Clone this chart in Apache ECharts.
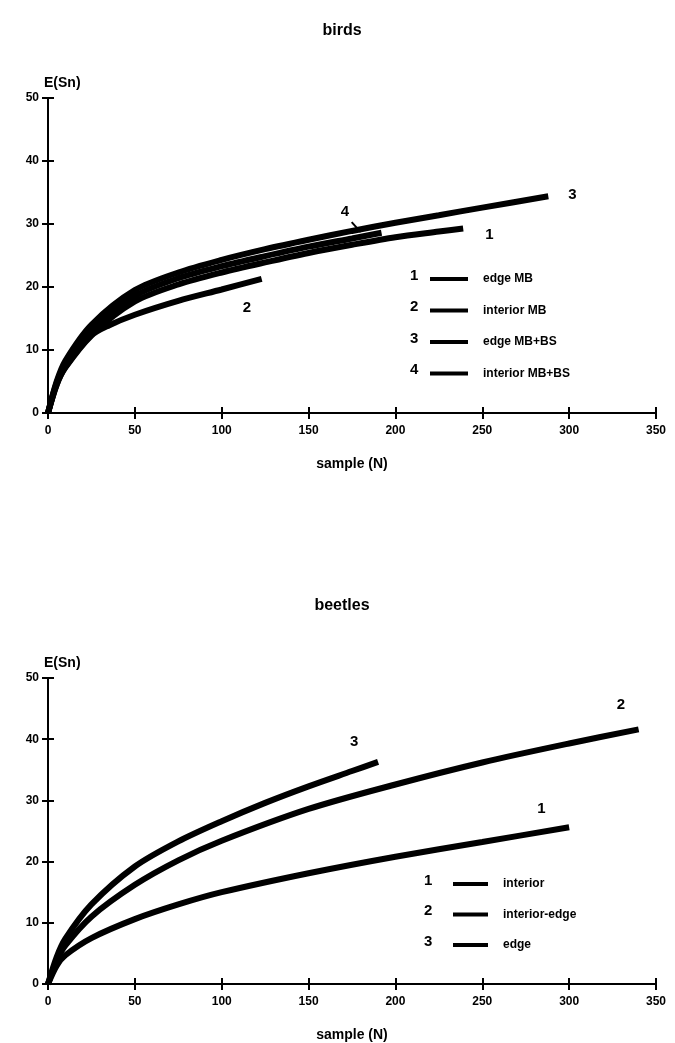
<!DOCTYPE html>
<html>
<head>
<meta charset="utf-8">
<script src="https://cdn.jsdelivr.net/npm/echarts@6/dist/echarts.min.js"></script>
<style>
html, body { margin: 0; padding: 0; background: #fff; }
#chart { width: 675px; height: 1043px; }
</style>
</head>
<body>
<div id="chart"></div>
<script>
// birds
var birdsEdgeMB_x = [0, 5, 10, 25, 50, 75, 100, 125, 150, 175, 200, 225, 239];
var birdsEdgeMB_y = [0, 4.5, 7.3, 12.4, 17.7, 20.4, 22.3, 23.9, 25.4, 26.7, 27.9, 28.8, 29.3];
var birdsIntMB_x = [0, 5, 10, 25, 35, 50, 75, 100, 123];
var birdsIntMB_y = [0, 4.5, 7.2, 12.3, 13.9, 15.6, 17.8, 19.6, 21.3];
var birdsEdgeMBBS_x = [0, 5, 10, 25, 50, 75, 100, 125, 150, 175, 200, 225, 250, 288];
var birdsEdgeMBBS_y = [0, 5, 8.3, 14, 19.5, 22.3, 24.3, 26, 27.5, 28.9, 30.2, 31.4, 32.6, 34.4];
var birdsIntMBBS_x = [0, 5, 10, 25, 50, 75, 100, 125, 150, 175, 192];
var birdsIntMBBS_y = [0, 4.8, 7.8, 13.2, 18.6, 21.4, 23.3, 24.9, 26.4, 27.7, 28.6];

// beetles
var beetInt_x = [0, 5, 10, 25, 50, 75, 100, 150, 200, 250, 300];
var beetInt_y = [0, 3, 4.7, 7.5, 10.6, 13, 15, 18.1, 20.8, 23.2, 25.6];
var beetIntEdge_x = [0, 5, 10, 25, 50, 75, 100, 150, 200, 250, 300, 340];
var beetIntEdge_y = [0, 3.8, 6.3, 11, 16.2, 20.2, 23.4, 28.6, 32.6, 36.2, 39.3, 41.6];
var beetEdge_x = [0, 5, 10, 25, 50, 75, 100, 125, 150, 175, 190];
var beetEdge_y = [0, 4.4, 7.4, 13, 19.2, 23.3, 26.6, 29.6, 32.3, 34.8, 36.3];

var xTicks = [0, 50, 100, 150, 200, 250, 300, 350];
var yTicks = [0, 10, 20, 30, 40, 50];

var birdsNames = ['edge MB', 'interior MB', 'edge MB+BS', 'interior MB+BS'];
var beetleNames = ['interior', 'interior-edge', 'edge'];

var FONT = 'Liberation Sans';

function pairs(xs, ys) {
    var out = [];
    for (var i = 0; i < xs.length; i++) out.push([xs[i], ys[i]]);
    return out;
}

function xAx(grid, main) {
    return {
        type: 'value', gridIndex: grid, position: 'bottom',
        min: xTicks[0], max: xTicks[xTicks.length - 1], interval: xTicks[1] - xTicks[0],
        name: main ? 'sample (N)' : '', nameLocation: 'middle', nameGap: 44,
        nameTextStyle: { fontFamily: FONT, fontWeight: 'bold', fontSize: 14, color: '#000' },
        axisLine: { show: main, onZero: false, lineStyle: { color: '#000', width: 2 } },
        axisTick: { show: true, inside: !main, length: 6, lineStyle: { color: '#000', width: 2 } },
        axisLabel: { show: main, margin: 12, fontFamily: FONT, fontWeight: 'bold', fontSize: 12, color: '#000' },
        splitLine: { show: false }
    };
}

function yAx(grid, main) {
    return {
        type: 'value', gridIndex: grid, position: 'left',
        min: yTicks[0], max: yTicks[yTicks.length - 1], interval: yTicks[1] - yTicks[0],
        name: main ? 'E(Sn)' : '', nameLocation: 'end', nameGap: 8,
        nameTextStyle: { fontFamily: FONT, fontWeight: 'bold', fontSize: 14, color: '#000', align: 'left', padding: [0, 0, 0, -4] },
        axisLine: { show: main, lineStyle: { color: '#000', width: 2 } },
        axisTick: { show: true, inside: !main, length: 6, lineStyle: { color: '#000', width: 2 } },
        axisLabel: { show: main, margin: 9, fontFamily: FONT, fontWeight: 'bold', fontSize: 12, color: '#000' },
        splitLine: { show: false }
    };
}

function curve(name, xs, ys, grid, lbl, off) {
    return {
        name: name, type: 'line', xAxisIndex: grid * 2, yAxisIndex: grid * 2,
        data: pairs(xs, ys), smooth: 0.3, showSymbol: false,
        lineStyle: { color: '#000', width: 6, cap: 'butt' },
        itemStyle: { color: '#000' },
        endLabel: lbl ? { show: true, formatter: lbl, offset: off, fontFamily: FONT, fontWeight: 'bold', fontSize: 15, color: '#000' } : { show: false }
    };
}

var legendText = { fontFamily: FONT, fontWeight: 'bold', fontSize: 12, color: '#000', padding: [0, 0, 0, 10] };

var myChart = echarts.init(document.getElementById('chart'));
var option = {
    animation: false,
    backgroundColor: '#fff',
    title: [
        { text: 'birds', left: 337, top: 18, textAlign: 'center', textStyle: { fontFamily: FONT, fontWeight: 'bold', fontSize: 16, color: '#000' } },
        { text: 'beetles', left: 337, top: 593, textAlign: 'center', textStyle: { fontFamily: FONT, fontWeight: 'bold', fontSize: 16, color: '#000' } }
    ],
    grid: [
        { left: 48, right: 19, top: 98, bottom: 630 },
        { left: 48, right: 19, top: 678, bottom: 59 }
    ],
    xAxis: [xAx(0, true), xAx(0, false), xAx(1, true), xAx(1, false)],
    yAxis: [yAx(0, true), yAx(0, false), yAx(1, true), yAx(1, false)],
    legend: [
        { data: birdsNames, orient: 'vertical', left: 425, top: 268, itemWidth: 38, itemHeight: 4, itemGap: 19.5,
          icon: 'rect', textStyle: legendText, selectedMode: false },
        { data: beetleNames, orient: 'vertical', left: 448, top: 873, itemWidth: 35, itemHeight: 4, itemGap: 18.5,
          icon: 'rect', textStyle: legendText, selectedMode: false }
    ],
    series: [
        curve(birdsNames[0], birdsEdgeMB_x, birdsEdgeMB_y, 0, '1', [14, 6]),
        curve(birdsNames[1], birdsIntMB_x, birdsIntMB_y, 0, '2', [-27, 29]),
        curve(birdsNames[2], birdsEdgeMBBS_x, birdsEdgeMBBS_y, 0, '3', [12, -1]),
        curve(birdsNames[3], birdsIntMBBS_x, birdsIntMBBS_y, 0, null),
        curve(beetleNames[0], beetInt_x, beetInt_y, 1, '1', [-40, -18]),
        curve(beetleNames[1], beetIntEdge_x, beetIntEdge_y, 1, '2', [-30, -25]),
        curve(beetleNames[2], beetEdge_x, beetEdge_y, 1, '3', [-36, -20])
    ]
};
myChart.setOption(option);

// legend numbers and the "4" pointer
var g = [];
var nums = ['1', '2', '3', '4'];
for (var i = 0; i < 4; i++) {
    g.push({ type: 'text', left: 410, top: 268 + i * 31.5, style: { text: nums[i], font: 'bold 15px ' + FONT, fill: '#000' } });
}
for (var j = 0; j < 3; j++) {
    g.push({ type: 'text', left: 424, top: 873 + j * 30.5, style: { text: nums[j], font: 'bold 15px ' + FONT, fill: '#000' } });
}
var p4 = myChart.convertToPixel({ xAxisIndex: 0, yAxisIndex: 0 }, [180, 28.4]);
g.push({ type: 'line', shape: { x1: p4[0] - 9, y1: p4[1] - 12, x2: p4[0], y2: p4[1] - 2 }, style: { stroke: '#000', lineWidth: 2 } });
g.push({ type: 'text', left: p4[0] - 20, top: p4[1] - 30, style: { text: '4', font: 'bold 15px ' + FONT, fill: '#000' } });
myChart.setOption({ graphic: g });
</script>
</body>
</html>
